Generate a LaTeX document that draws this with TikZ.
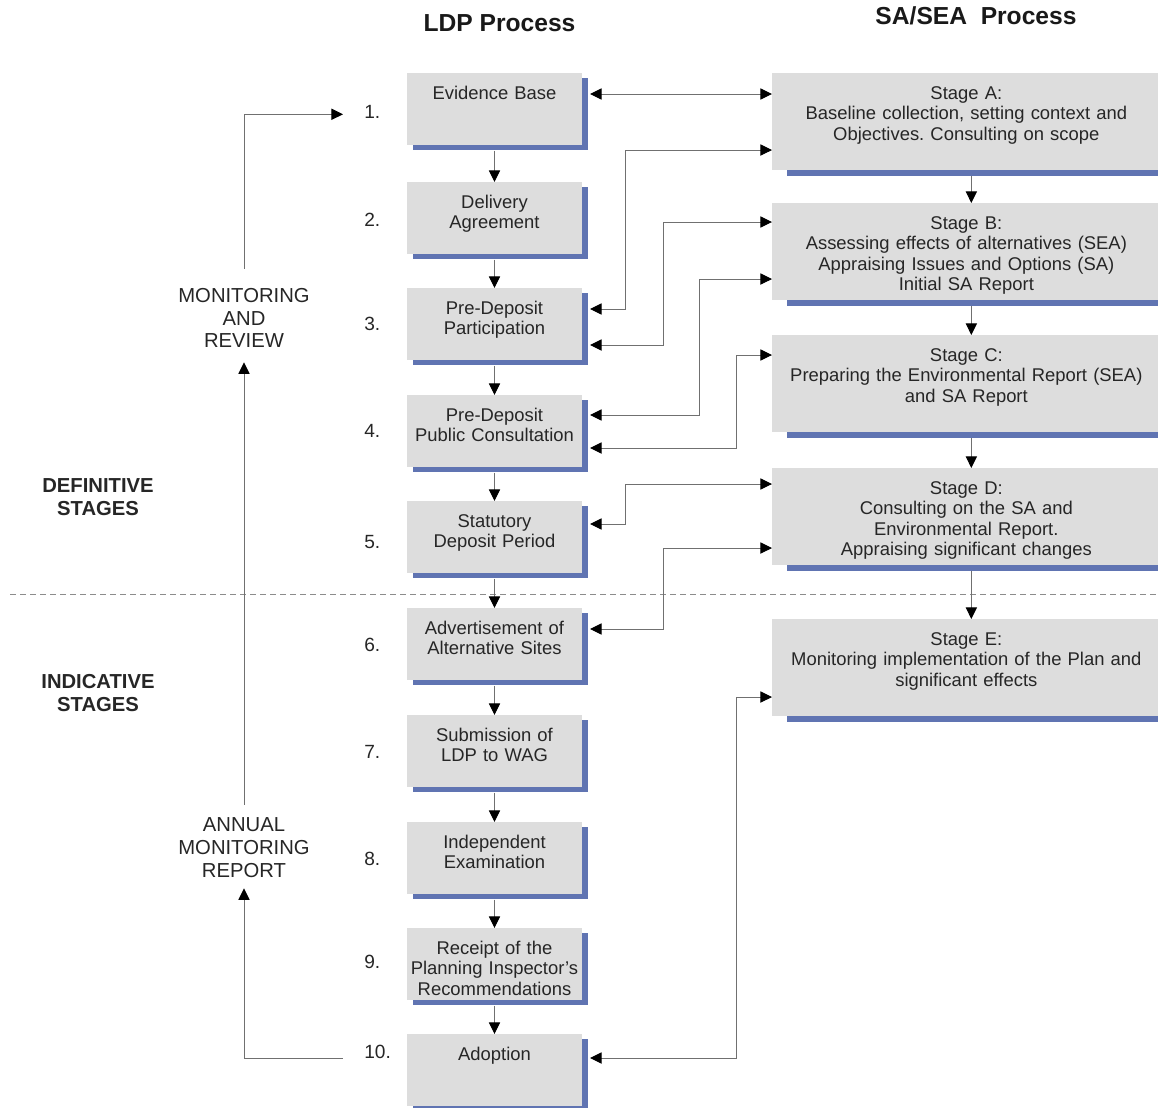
\documentclass[tikz,border=0pt]{standalone}
\usepackage{fontspec}
\setmainfont{Liberation Sans}
\usetikzlibrary{arrows.meta,shadows}
\frenchspacing

\definecolor{boxgrey}{RGB}{221,221,221}
\definecolor{shadeblue}{RGB}{96,116,178}
\definecolor{wiregrey}{RGB}{112,112,112}
\def\boxfont{\fontsize{13.1}{14.6}\selectfont}
\def\sidefont{\fontsize{14.4}{16.3}\selectfont}
\def\numfont{\fontsize{13.6}{16}\selectfont}

\tikzset{
  ldpbox/.style={anchor=north, fill=boxgrey, text=black!85, font=\boxfont,
    align=center, text width=4.275cm, inner xsep=0.05cm, inner ysep=0.3cm,
    text height=10pt, text depth=0.8485cm, outer xsep=0.2cm,
    drop shadow={shadow xshift=0.15cm, shadow yshift=-0.125cm, fill=shadeblue, opacity=1}},
  seabox/.style={anchor=north west, fill=boxgrey, text=black!85, font=\boxfont,
    align=center, text width=9.6cm, inner xsep=0.05cm, inner ysep=0.3cm,
    text height=10pt, text depth=1.4735cm,
    drop shadow={shadow xshift=0.375cm, shadow yshift=-0.15cm, fill=shadeblue, opacity=1}},
  num/.style={anchor=base west, inner sep=0pt, font=\numfont, text=black!85},
  side/.style={inner sep=0pt, align=center, font=\sidefont, text=black!85},
  head/.style={font=\fontsize{17.5}{20}\selectfont\bfseries, text=black!90},
  wire/.style={draw=wiregrey, line width=0.7pt},
  conn/.style={wire, <->},
  down/.style={wire, ->, shorten <=0.125cm},
}

\begin{document}
\begin{tikzpicture}[x=0.025cm, y=-0.025cm, >={Triangle[length=2.9mm,width=2.8mm,color=black]}]
  \useasboundingbox (0,0) rectangle (1158,1107);
  \clip (0,0) rectangle (1158,1107);
  % column headings
  \node[head] (ldphead) at (499.5,23) {LDP Process};
  \node[head] (seahead) at (976,16) {SA/SEA\ \ Process};
  % LDP column
  \node[ldpbox] (ev)  at (494.5,73)   {Evidence Base};
  \node[ldpbox] (da)  at (494.5,182)  {Delivery\\Agreement};
  \node[ldpbox] (pp)  at (494.5,288)  {Pre-Deposit\\Participation};
  \node[ldpbox] (pc)  at (494.5,395)  {Pre-Deposit\\Public Consultation};
  \node[ldpbox] (sd)  at (494.5,501)  {Statutory\\Deposit Period};
  \node[ldpbox] (as)  at (494.5,608)  {Advertisement of\\Alternative Sites};
  \node[ldpbox] (sub) at (494.5,715)  {Submission of\\LDP to WAG};
  \node[ldpbox] (ie)  at (494.5,822)  {Independent\\Examination};
  \node[ldpbox] (rec) at (494.5,928)  {Receipt of the\\Planning Inspector’s\\Recommendations};
  \node[ldpbox] (ad)  at (494.5,1034) {Adoption};
  % SA/SEA column
  \node[seabox] (sa)  at (772,73)  {Stage A:\\Baseline collection, setting context and\\Objectives. Consulting on scope};
  \node[seabox] (sb)  at (772,203) {Stage B:\\Assessing effects of alternatives (SEA)\\Appraising Issues and Options (SA)\\Initial SA Report};
  \node[seabox] (sc)  at (772,335) {Stage C:\\Preparing the Environmental Report (SEA)\\and SA Report};
  \node[seabox] (sdd) at (772,468) {Stage D:\\Consulting on the SA and\\Environmental Report.\\Appraising significant changes};
  \node[seabox] (se)  at (772,619) {Stage E:\\Monitoring implementation of the Plan and\\significant effects};
  % step numbers
  \node[num] (n1)  at (364,118)  {1.};
  \node[num] (n2)  at (364,226)  {2.};
  \node[num] (n3)  at (364,330)  {3.};
  \node[num] (n4)  at (364,437)  {4.};
  \node[num] (n5)  at (364,548)  {5.};
  \node[num] (n6)  at (364,651)  {6.};
  \node[num] (n7)  at (364,758)  {7.};
  \node[num] (n8)  at (364,865)  {8.};
  \node[num] (n9)  at (364,968)  {9.};
  \node[num] (n10) at (364,1058) {10.};
  % side labels
  \node[side] (mr)  at (244,318) {MONITORING\\AND\\REVIEW};
  \node[side] (amr) at (244,848) {ANNUAL\\MONITORING\\REPORT};
  \node[side, font=\sidefont\bfseries] (defst) at (98,497) {DEFINITIVE\\STAGES};
  \node[side, font=\sidefont\bfseries] (indst) at (98,693) {INDICATIVE\\STAGES};
  % divider
  \draw[black!45, line width=0.7pt, dash pattern=on 0.15cm off 0.1cm] (10,594) -- (1158,594);
  % LDP flow
  \draw[down] (ev) -- (da);
  \draw[down] (da) -- (pp);
  \draw[down] (pp) -- (pc);
  \draw[down] (pc) -- (sd);
  \draw[down] (sd) -- (as);
  \draw[down] (as) -- (sub);
  \draw[down] (sub) -- (ie);
  \draw[down] (ie) -- (rec);
  \draw[down] (rec) -- (ad);
  % SA/SEA flow
  \draw[down] ([xshift=0.125cm]sa.south) -- ([xshift=0.125cm]sb.north);
  \draw[down] ([xshift=0.125cm]sb.south) -- ([xshift=0.125cm]sc.north);
  \draw[down] ([xshift=0.125cm]sc.south) -- ([xshift=0.125cm]sdd.north);
  \draw[down] ([xshift=0.125cm]sdd.south) -- ([xshift=0.125cm]se.north);
  % links between the columns
  \draw[conn] ([yshift=-0.525cm]ev.north east) -- ([yshift=-0.525cm]sa.north west);
  \draw[conn] ([yshift=-0.525cm]pp.north east) -- ++(35,0) |- ([yshift=-1.925cm]sa.north west);
  \draw[conn] ([yshift=-1.425cm]pp.north east) -- ++(73,0) |- ([yshift=-0.475cm]sb.north west);
  \draw[conn] ([yshift=-0.5cm]pc.north east) -- ++(109,0) |- ([yshift=-1.9cm]sb.north west);
  \draw[conn] ([yshift=-1.325cm]pc.north east) -- ++(146,0) |- ([yshift=-0.5cm]sc.north west);
  \draw[conn] ([yshift=-0.575cm]sd.north east) -- ++(35,0) |- ([yshift=-0.4cm]sdd.north west);
  \draw[conn] ([yshift=-0.525cm]as.north east) -- ++(73,0) |- ([yshift=-2cm]sdd.north west);
  \draw[conn] ([yshift=-0.6cm]ad.north east) -- ++(146,0) |- ([yshift=-1.95cm]se.north west);
  % monitoring loop
  \draw[wire, ->, shorten <=0.475cm, shorten >=0.525cm] (mr.north) |- (n1.mid west);
  \draw[wire, ->, shorten <=0.325cm, shorten >=0.35cm] (amr.north) -- (mr.south);
  \draw[wire, ->, shorten <=0.525cm, shorten >=0.25cm] (n10.base west) -| (amr.south);
\end{tikzpicture}
\end{document}
